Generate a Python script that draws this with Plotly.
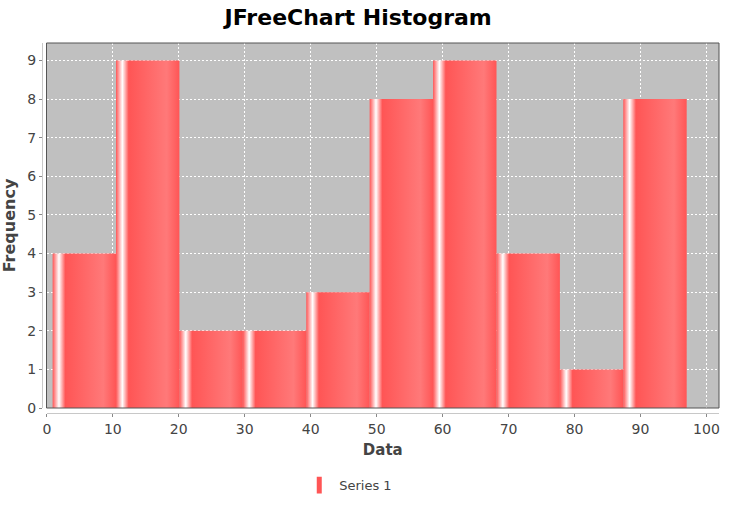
import plotly.graph_objects as go

# ---- data ----
bin_edges = [0.88, 10.49, 20.10, 29.72, 39.33, 48.94, 58.55, 68.17, 77.78, 87.39, 97.0]
frequencies = [4, 9, 2, 2, 3, 8, 9, 4, 1, 8]
series_name = "Series 1"
x_ticks = [0, 10, 20, 30, 40, 50, 60, 70, 80, 90, 100]
y_ticks = [0, 1, 2, 3, 4, 5, 6, 7, 8, 9]

base = "#ff5555"
bright = "#ff7979"
gradient = [[0.0, base], [0.10, "#ffffff"], [0.20, base], [0.80, bright], [1.0, base]]

fig = go.Figure()

for i, f in enumerate(frequencies):
    x0, x1 = bin_edges[i], bin_edges[i + 1]
    fig.add_trace(go.Scatter(
        x=[x0, x0, x1, x1, x0], y=[0, f, f, 0, 0],
        mode="lines", fill="toself",
        fillgradient=dict(type="horizontal", colorscale=gradient),
        line=dict(width=0, color="rgba(0,0,0,0)"),
        showlegend=False, hoverinfo="skip",
    ))

# legend entry
fig.add_trace(go.Scatter(
    x=[None], y=[None], mode="markers", name=series_name,
    marker=dict(symbol="line-ns", size=12, color=base, line=dict(width=6, color=base)),
))

W, H = 737, 506
L, R, T, B = 42, 18, 43, 93
pw, ph = W - L - R, H - T - B
xd0 = 4.5 / pw
yd0 = 5.0 / ph

font = "DejaVu Sans"
fig.update_layout(
    width=W, height=H,
    margin=dict(l=L, r=R, t=T, b=B, autoexpand=False),
    paper_bgcolor="white", plot_bgcolor="#c0c0c0",
    title=dict(text="<b>JFreeChart Histogram</b>", x=0.486, xanchor="center",
               y=0.966, yanchor="middle",
               font=dict(family=font, size=22, color="black")),
    xaxis=dict(domain=[xd0, 1], range=[-0.05, 101.9], anchor="free", position=0,
               tickvals=x_ticks, ticks="outside", ticklen=3, tickcolor="#888",
               showline=True, linecolor="#c8c8c8", linewidth=1,
               showgrid=True, gridcolor="white", griddash="2px,2px", gridwidth=1,
               zeroline=False, automargin=False,
               tickfont=dict(family=font, size=14, color="#444"),
               title=dict(text="<b>Data</b>", font=dict(family=font, size=15, color="#444"),
                          standoff=8)),
    yaxis=dict(domain=[yd0, 1], range=[0, 9.45], anchor="free", position=0,
               tickvals=y_ticks, ticks="outside", ticklen=3, tickcolor="#888",
               showline=True, linecolor="#c8c8c8", linewidth=1,
               showgrid=True, gridcolor="white", griddash="2px,2px", gridwidth=1,
               zeroline=False, automargin=False,
               tickfont=dict(family=font, size=14, color="#444"),
               title=dict(text="<b>Frequency</b>", font=dict(family=font, size=16, color="#444"),
                          standoff=6)),
    legend=dict(orientation="h", x=0.38, xanchor="left", y=-0.195, yanchor="middle",
                font=dict(family=font, size=13, color="#444"), itemwidth=30),
    showlegend=True,
)

# plot-area border
fig.add_shape(type="rect", xref="x domain", yref="y domain", x0=0, x1=1, y0=0, y1=1,
              line=dict(color="#555555", width=1), fillcolor="rgba(0,0,0,0)", layer="above")

fig.write_html("out.html")
